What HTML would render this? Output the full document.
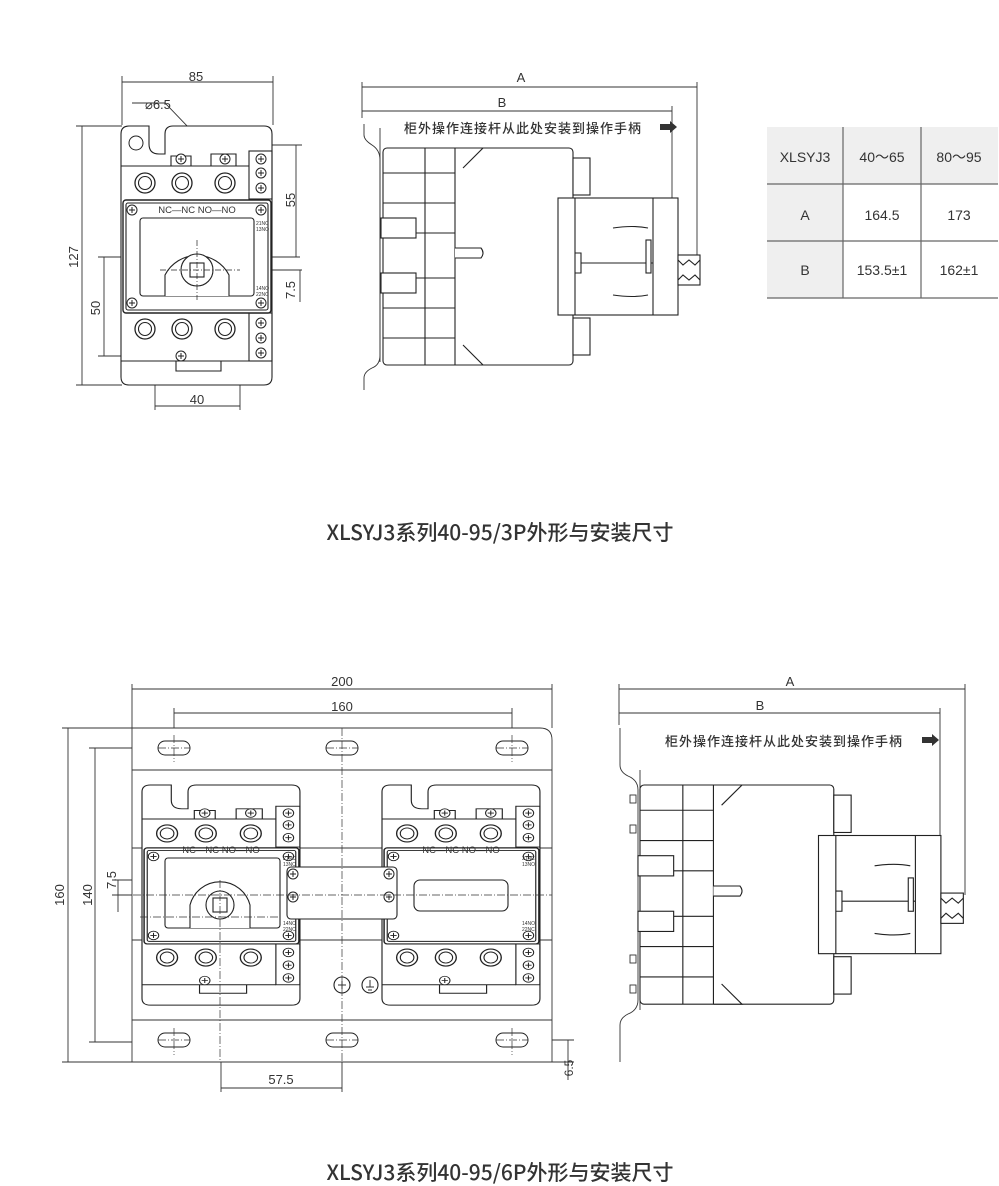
<!DOCTYPE html>
<html><head><meta charset="utf-8"><style>
html,body{margin:0;padding:0;background:#fff;}
svg{display:block;}
text{font-family:"Liberation Sans","Noto Sans CJK SC",sans-serif;fill:#333;}
.ttl{font-family:"Noto Sans CJK SC",sans-serif;font-weight:500;fill:#333;}
.cn{font-family:"Noto Sans CJK SC",sans-serif;font-weight:500;fill:#333;letter-spacing:1px;}
</style></head><body>
<svg width="999" height="1186" viewBox="0 0 999 1186" xmlns="http://www.w3.org/2000/svg">
<defs>
<g id="scr"><circle r="5" fill="#fff" stroke="#222" stroke-width="1"/><path d="M-3 0H3M0 -3V3" stroke="#222" stroke-width="1"/></g>
<g id="term"><circle r="10" fill="#fff" stroke="#222" stroke-width="1.3"/><circle r="6.5" fill="none" stroke="#222" stroke-width="1.1"/></g>
<g id="ct" fill="none" stroke="#222" stroke-width="1.1">
  <path d="M0 8Q0 0 8 0H28V18Q28 28 38 28H44V8Q44 0 52 0H143Q151 0 151 8V251Q151 259 143 259H8Q0 259 0 251Z" fill="#fff"/>
  <path d="M0 40H128M0 235H128"/>
  <path d="M50 40V30H70V40M90 40V28H115V40M55 235V245H100V235"/>
  <rect x="128" y="25" width="23" height="48"/><rect x="128" y="187" width="23" height="48"/>
  <use href="#scr" x="140" y="33"/><use href="#scr" x="140" y="47"/><use href="#scr" x="140" y="62"/>
  <use href="#scr" x="140" y="197"/><use href="#scr" x="140" y="212"/><use href="#scr" x="140" y="227"/>
  <use href="#scr" x="60" y="33"/><use href="#scr" x="104" y="33"/><use href="#scr" x="60" y="230"/>
  <use href="#term" x="24" y="57"/><use href="#term" x="61" y="57"/><use href="#term" x="104" y="57"/>
  <use href="#term" x="24" y="203"/><use href="#term" x="61" y="203"/><use href="#term" x="104" y="203"/>
  <rect x="2" y="74" width="148" height="113" rx="3" fill="#fff" stroke-width="1.4"/>
  <rect x="5" y="77" width="142" height="107" rx="2"/>
  <use href="#scr" x="11" y="84"/><use href="#scr" x="140" y="84"/><use href="#scr" x="11" y="177"/><use href="#scr" x="140" y="177"/>
</g>
<g id="side" fill="#fff" stroke="#222" stroke-width="1.1">
  <rect x="0" y="0" width="190" height="217" rx="4"/>
  <path d="M72 0V217M42 0V217M0 25H72M0 55H72M0 85H72M0 130H72M0 160H72M0 190H72M72 0L100 0L80 20M72 217L100 217L80 197"/>
  <rect x="-2" y="70" width="35" height="20"/><rect x="-2" y="125" width="35" height="20"/>
  <path d="M72 100H98Q102 105 98 110H72"/>
  <rect x="190" y="10" width="17" height="37"/><rect x="190" y="170" width="17" height="37"/>
  <rect x="175" y="50" width="120" height="117"/>
  <path d="M192 50V167M270 50V167M192 105H198V125H192M198 115H270"/>
  <rect x="263" y="92" width="5" height="33"/>
  <path d="M230 80Q250 77 265 80M230 147Q250 150 265 147"/>
  <rect x="295" y="107" width="22" height="30"/>
  <path d="M295 112L300 117L306 112L312 117L317 112M295 132L300 127L306 132L312 127L317 132" fill="none"/>
</g>
</defs>

<!-- ===== TOP 3P FRONT ===== -->
<g stroke="#333" stroke-width="0.9" fill="none">
  <path d="M122 82H273M122 76V125M273 76V125"/>
  <path d="M82 126V385M76 126H122M76 385H122"/>
  <path d="M104 257V356M98 257H300M98 356H240"/>
  <path d="M296 145V257M240 145H302"/>
  <path d="M300 270V302M270 270H302"/>
  <path d="M155 406H240M155 370V410M240 370V410"/>
  <path d="M132 103H165L215 155"/>
</g>
<use href="#ct" x="121" y="126"/>
<g fill="none" stroke="#222" stroke-width="1.1">
  <rect x="140" y="218" width="114" height="78" rx="3"/>
  <path d="M165 296V275A36 36 0 0 1 229 275V296" fill="#fff"/>
  <circle cx="197" cy="270" r="16" fill="#fff"/><rect x="190" y="263" width="14" height="14"/>
  <path d="M197 240V300M160 270H240" stroke-dasharray="6 2 1 2" stroke-width="0.7"/>
</g>
<circle cx="136" cy="143" r="7" fill="#fff" stroke="#222"/>
<text x="196" y="81" font-size="13" text-anchor="middle">85</text>
<text x="145" y="109" font-size="13">⌀6.5</text>
<text transform="translate(78 257) rotate(-90)" font-size="13" text-anchor="middle">127</text>
<text transform="translate(100 308) rotate(-90)" font-size="13" text-anchor="middle">50</text>
<text transform="translate(295 200) rotate(-90)" font-size="13" text-anchor="middle">55</text>
<text transform="translate(295 290) rotate(-90)" font-size="13" text-anchor="middle">7.5</text>
<text x="197" y="404" font-size="13" text-anchor="middle">40</text>
<text x="197" y="213" font-size="9.5" text-anchor="middle">NC—NC  NO—NO</text>
<text x="256" y="225" font-size="5">21NC</text><text x="256" y="231" font-size="5">13NO</text>
<text x="256" y="290" font-size="5">14NO</text><text x="256" y="296" font-size="5">22NC</text>

<!-- ===== TOP SIDE ===== -->
<g stroke="#333" stroke-width="0.9" fill="none">
  <path d="M362 87H697M362 82V118M697 82V255"/>
  <path d="M362 111H672M672 106V200"/>
  <path d="M364 124V135Q364 140 372 145Q380 150 380 160V355Q380 365 372 368Q364 372 364 378V390"/>
  <path d="M380 128V362"/>
</g>
<use href="#side" x="383" y="148"/>
<text x="521" y="82" font-size="13" text-anchor="middle">A</text>
<text x="502" y="107" font-size="13" text-anchor="middle">B</text>
<text x="404" y="133" font-size="13" class="cn">柜外操作连接杆从此处安装到操作手柄</text>
<path d="M660 124H670V121L677 127L670 133V130H660Z" fill="#333"/>

<!-- ===== TABLE ===== -->
<rect x="767" y="127" width="231" height="57" fill="#efefef"/>
<rect x="767" y="184" width="76" height="114" fill="#efefef"/>
<g stroke="#666" stroke-width="1.2">
  <path d="M767 184H998M767 241H998M767 298H998M843 127V298M921 127V298"/>
</g>
<g font-size="14" text-anchor="middle" fill="#444">
  <text x="805" y="162">XLSYJ3</text><text x="882" y="162">40～65</text><text x="959" y="162">80～95</text>
  <text x="805" y="220">A</text><text x="882" y="220">164.5</text><text x="959" y="220">173</text>
  <text x="805" y="275">B</text><text x="882" y="275">153.5±1</text><text x="959" y="275">162±1</text>
</g>

<text x="500" y="540" font-size="21" text-anchor="middle" class="ttl">XLSYJ3系列40-95/3P外形与安装尺寸</text>

<!-- ===== BOTTOM 6P FRONT ===== -->
<g stroke="#333" stroke-width="0.9" fill="none">
  <path d="M132 689H552M132 684V728M552 684V728"/>
  <path d="M174 713H512M174 708V760M512 708V760"/>
  <path d="M68 728V1062M62 728H132M62 1062H132"/>
  <path d="M95 748V1042M89 748H174M89 1042H174"/>
  <path d="M118 880V912M112 895H200M112 880H140"/>
  <path d="M221 1088H342M221 905V1092M342 1050V1092"/>
  <path d="M568 1040V1080M512 1040H574M552 1062H574"/>
  <path d="M132 728H540Q552 728 552 740V1062H132Z" fill="#fff"/>
  <path d="M132 770H552M132 1020H552"/>
  <path d="M132 848H552M132 940H552"/>
</g>
<g stroke="#222" stroke-width="1" fill="#fff">
  <rect x="158" y="741" width="32" height="14" rx="7"/><rect x="326" y="741" width="32" height="14" rx="7"/><rect x="496" y="741" width="32" height="14" rx="7"/>
  <rect x="158" y="1033" width="32" height="14" rx="7"/><rect x="326" y="1033" width="32" height="14" rx="7"/><rect x="496" y="1033" width="32" height="14" rx="7"/>
</g>
<use href="#ct" transform="translate(142 785) scale(1.046 0.85)"/>
<use href="#ct" transform="translate(382 785) scale(1.046 0.85)"/>
<g stroke="#222" stroke-width="1.1" fill="#fff">
  <rect x="165" y="858" width="115" height="70" rx="3"/>
  <path d="M190 928V905A31 31 0 0 1 250 905V928"/>
  <circle cx="220" cy="905" r="14"/><rect x="213" y="898" width="14" height="14" fill="none"/>
  <rect x="287" y="867" width="110" height="52" rx="4"/>
  <use href="#scr" x="293" y="874"/><use href="#scr" x="389" y="874"/><use href="#scr" x="293" y="897"/><use href="#scr" x="389" y="897"/>
  <rect x="414" y="880" width="94" height="31" rx="6"/>
  <circle cx="342" cy="985" r="8"/><circle cx="370" cy="985" r="8"/>
</g>
<path d="M338 985H346M342 981V989M366 987H374M368 990H372M370 980V987" stroke="#333" stroke-width="1"/>
<g stroke="#333" stroke-width="0.7" fill="none" stroke-dasharray="8 2 1 2">
  <path d="M342 728V1062M120 895H552M140 917H280M220 880V1062"/>
  <path d="M158 748H190M326 748H358M496 748H528M158 1040H190M326 1040H358M496 1040H528"/>
  <path d="M174 735V762M512 735V762M174 1028V1055M512 1028V1055"/>
</g>
<g font-size="9.5" text-anchor="middle">
  <text x="221" y="853">NC—NC  NO—NO</text><text x="461" y="853">NC—NC  NO—NO</text>
</g>
<g font-size="5">
  <text x="283" y="860">21NC</text><text x="283" y="866">13NO</text><text x="283" y="925">14NO</text><text x="283" y="931">22NC</text>
  <text x="522" y="860">21NC</text><text x="522" y="866">13NO</text><text x="522" y="925">14NO</text><text x="522" y="931">22NC</text>
</g>
<text x="342" y="686" font-size="13" text-anchor="middle">200</text>
<text x="342" y="711" font-size="13" text-anchor="middle">160</text>
<text transform="translate(64 895) rotate(-90)" font-size="13" text-anchor="middle">160</text>
<text transform="translate(92 895) rotate(-90)" font-size="13" text-anchor="middle">140</text>
<text transform="translate(116 880) rotate(-90)" font-size="13" text-anchor="middle">7.5</text>
<text x="281" y="1084" font-size="13" text-anchor="middle">57.5</text>
<text transform="translate(573 1068) rotate(-90)" font-size="12" text-anchor="middle">6.5</text>

<!-- ===== BOTTOM SIDE ===== -->
<g stroke="#333" stroke-width="0.9" fill="none">
  <path d="M619 689H965M619 684V725M965 684V895"/>
  <path d="M619 713H940M940 708V836"/>
  <path d="M620 728V765Q620 772 628 776Q638 780 638 790V1000Q638 1010 628 1014Q620 1018 620 1025V1062"/>
  <path d="M640 770V1010"/>
  <rect x="630" y="795" width="6" height="8"/><rect x="630" y="825" width="6" height="8"/><rect x="630" y="955" width="6" height="8"/><rect x="630" y="985" width="6" height="8"/>
</g>
<use href="#side" transform="translate(640 785) scale(1.02 1.01)"/>
<text x="790" y="686" font-size="13" text-anchor="middle">A</text>
<text x="760" y="710" font-size="13" text-anchor="middle">B</text>
<text x="665" y="746" font-size="13" class="cn">柜外操作连接杆从此处安装到操作手柄</text>
<path d="M922 737H932V734L939 740L932 746V743H922Z" fill="#333"/>

<text x="500" y="1180" font-size="21" text-anchor="middle" class="ttl">XLSYJ3系列40-95/6P外形与安装尺寸</text>
</svg>
</body></html>
